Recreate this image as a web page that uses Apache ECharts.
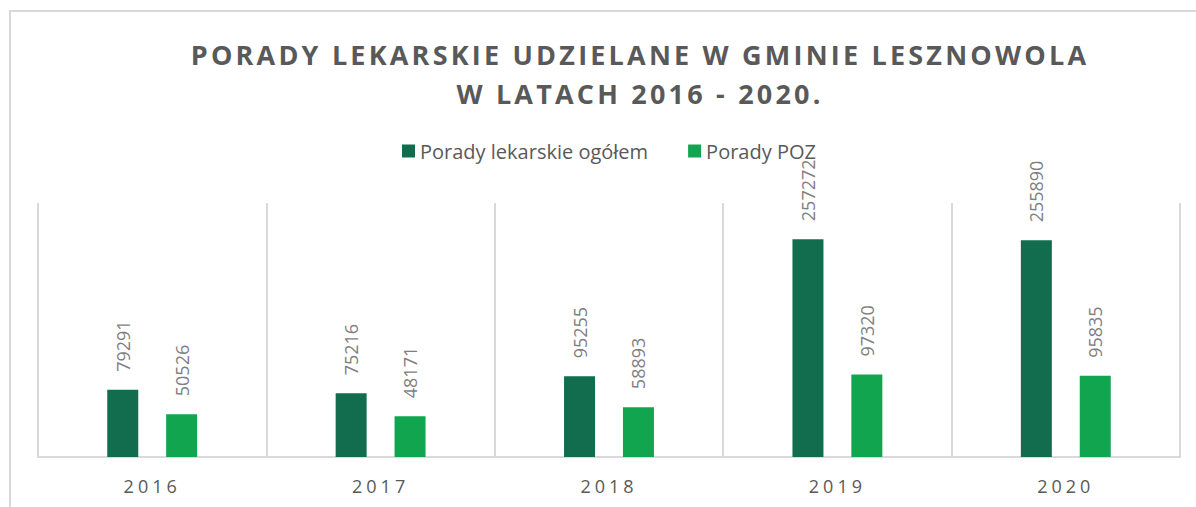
<!DOCTYPE html>
<html>
<head>
<meta charset="utf-8">
<script src="https://cdn.jsdelivr.net/npm/echarts@6/dist/echarts.min.js"></script>
<style>
  html, body { margin: 0; padding: 0; background: #fff; overflow: hidden; }
  #frame { position: absolute; left: 9px; top: 10px; width: 1400px; height: 700px; border: 2px solid #d9d9d9; box-sizing: border-box; }
  #chart { position: absolute; left: 0; top: 0; width: 1196px; height: 507px; }
</style>
</head>
<body>
<div id="frame"></div>
<div id="chart"></div>
<script>
"use strict";

const years      = ["2016", "2017", "2018", "2019", "2020"];
const poradyAll  = [79291, 75216, 95255, 257272, 255890];
const poradyPoz  = [50526, 48171, 58893, 97320, 95835];
const seriesNames = ["Porady lekarskie ogółem", "Porady POZ"];
const titleLines = ["PORADY LEKARSKIE UDZIELANE W GMINIE LESZNOWOLA", "W LATACH 2016 - 2020."];

const FONT = "'Open Sans', 'Noto Sans', sans-serif";

const dom = document.getElementById("chart");
const chart = echarts.init(dom, null, { renderer: "svg" });

const labelStyle = {
  show: true, position: "top", rotate: 90, align: "left", verticalAlign: "middle",
  distance: 18, fontSize: 18, color: "#7f7f7f", fontFamily: FONT
};

chart.setOption({
  animation: false,
  backgroundColor: "transparent",
  title: {
    text: titleLines.join("\n"),
    left: 635, top: 30, textAlign: "center",
    textStyle: { fontSize: 27, fontWeight: "bold", color: "#595959", fontFamily: FONT, lineHeight: 39 }
  },
  legend: {
    data: seriesNames,
    left: 397, top: 136,
    icon: "rect", itemWidth: 13, itemHeight: 13, itemGap: 40,
    textStyle: { fontSize: 20, color: "#595959", fontFamily: FONT }
  },
  grid: { left: 38, right: 16, top: 203, bottom: 50 },
  xAxis: {
    type: "category", data: years,
    axisLine: { lineStyle: { color: "#d9d9d9", width: 2 } },
    axisTick: { show: false },
    axisLabel: { fontSize: 18, color: "#595959", fontFamily: FONT, margin: 20 },
    splitLine: { show: true, interval: 0, lineStyle: { color: "#d9d9d9", width: 2 } }
  },
  yAxis: {
    type: "value", min: 0, max: 300000,
    show: false, splitLine: { show: false }
  },
  series: [
    {
      name: seriesNames[0], type: "bar", data: poradyAll,
      barWidth: 31, barGap: "90%",
      itemStyle: { color: "#116d4e" },
      label: labelStyle
    },
    {
      name: seriesNames[1], type: "bar", data: poradyPoz,
      barWidth: 31, barGap: "90%",
      itemStyle: { color: "#12a550" },
      label: labelStyle
    }
  ]
});

// letter spacing for the title and the year labels (svg text)
function spaceLetters() {
  dom.querySelectorAll("text").forEach(t => {
    const s = t.textContent.trim();
    if (titleLines.includes(s)) t.style.letterSpacing = "3.2px";
    else if (years.includes(s)) t.style.letterSpacing = "4px";
  });
}
spaceLetters();
chart.on("finished", spaceLetters);
</script>
</body>
</html>
